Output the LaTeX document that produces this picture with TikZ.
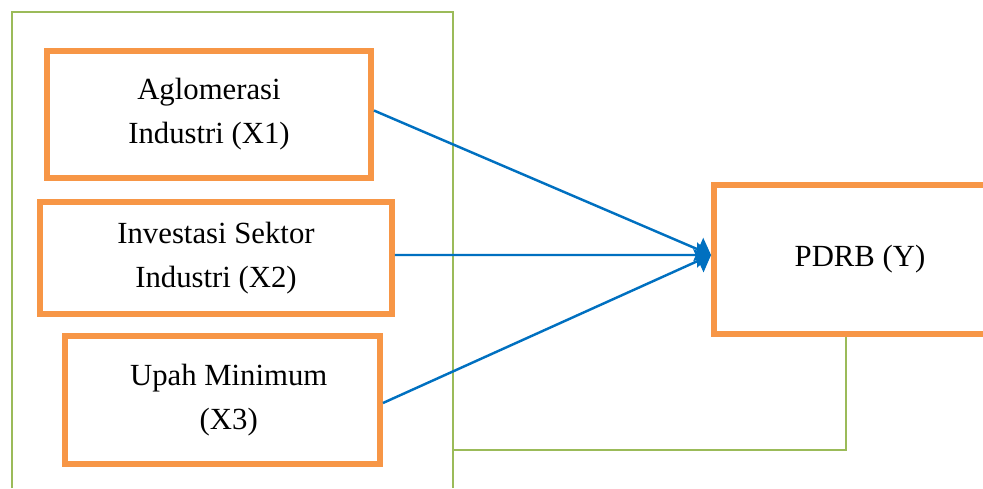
\documentclass[tikz,border=0pt]{standalone}
\usepackage{fontspec}
\setmainfont{Liberation Serif}
\usepackage{tikz}
\usetikzlibrary{arrows.meta}
\definecolor{corange}{HTML}{F79646}
\definecolor{cgreen}{HTML}{9BBB59}
\definecolor{cblue}{HTML}{0070C0}
\tikzset{
  varbox/.style={draw=corange, line width=3.4pt, fill=white, align=center,
                 inner sep=0pt, font=\fontsize{17.5}{25}\selectfont},
  frameline/.style={draw=cgreen, line width=1.2pt},
  effect/.style={draw=cblue, line width=1.4pt,
                 -{Triangle[length=0.28cm,width=0.5cm]}}
}
\begin{document}
\begin{tikzpicture}[x=0.02cm, y=-0.02cm]
  \useasboundingbox (0,0) rectangle (983,488);
  \clip (0,0) rectangle (983,488);
  \draw[frameline] (12,488) -- (12,12) -- (453,12) -- (453,488);
  \draw[frameline] (453,450) -- (846,450) -- (846,334);
  \node[varbox, minimum width=6.48cm, minimum height=2.54cm] (x1)
        at (209,114.5) {Aglomerasi\\Industri (X1)};
  \node[varbox, minimum width=7.04cm, minimum height=2.24cm] (x2)
        at (216,258) {Investasi Sektor\\Industri (X2)};
  \node[varbox, minimum width=6.30cm, minimum height=2.56cm] (x3)
        at (222.5,400) {\hspace*{0.25cm}Upah Minimum\\\hspace*{0.25cm}(X3)};
  \node[varbox, minimum width=5.84cm, minimum height=2.98cm] (y)
        at (860,259.5) {PDRB (Y)};
  \draw[effect] ([yshift=0.08cm]x1.east) -- ([yshift=0.09cm]y.west);
  \draw[effect] ([yshift=0.06cm]x2.east) -- ([yshift=0.09cm]y.west);
  \draw[effect] ([yshift=-0.06cm]x3.east) -- ([yshift=0.09cm]y.west);
\end{tikzpicture}
\end{document}
